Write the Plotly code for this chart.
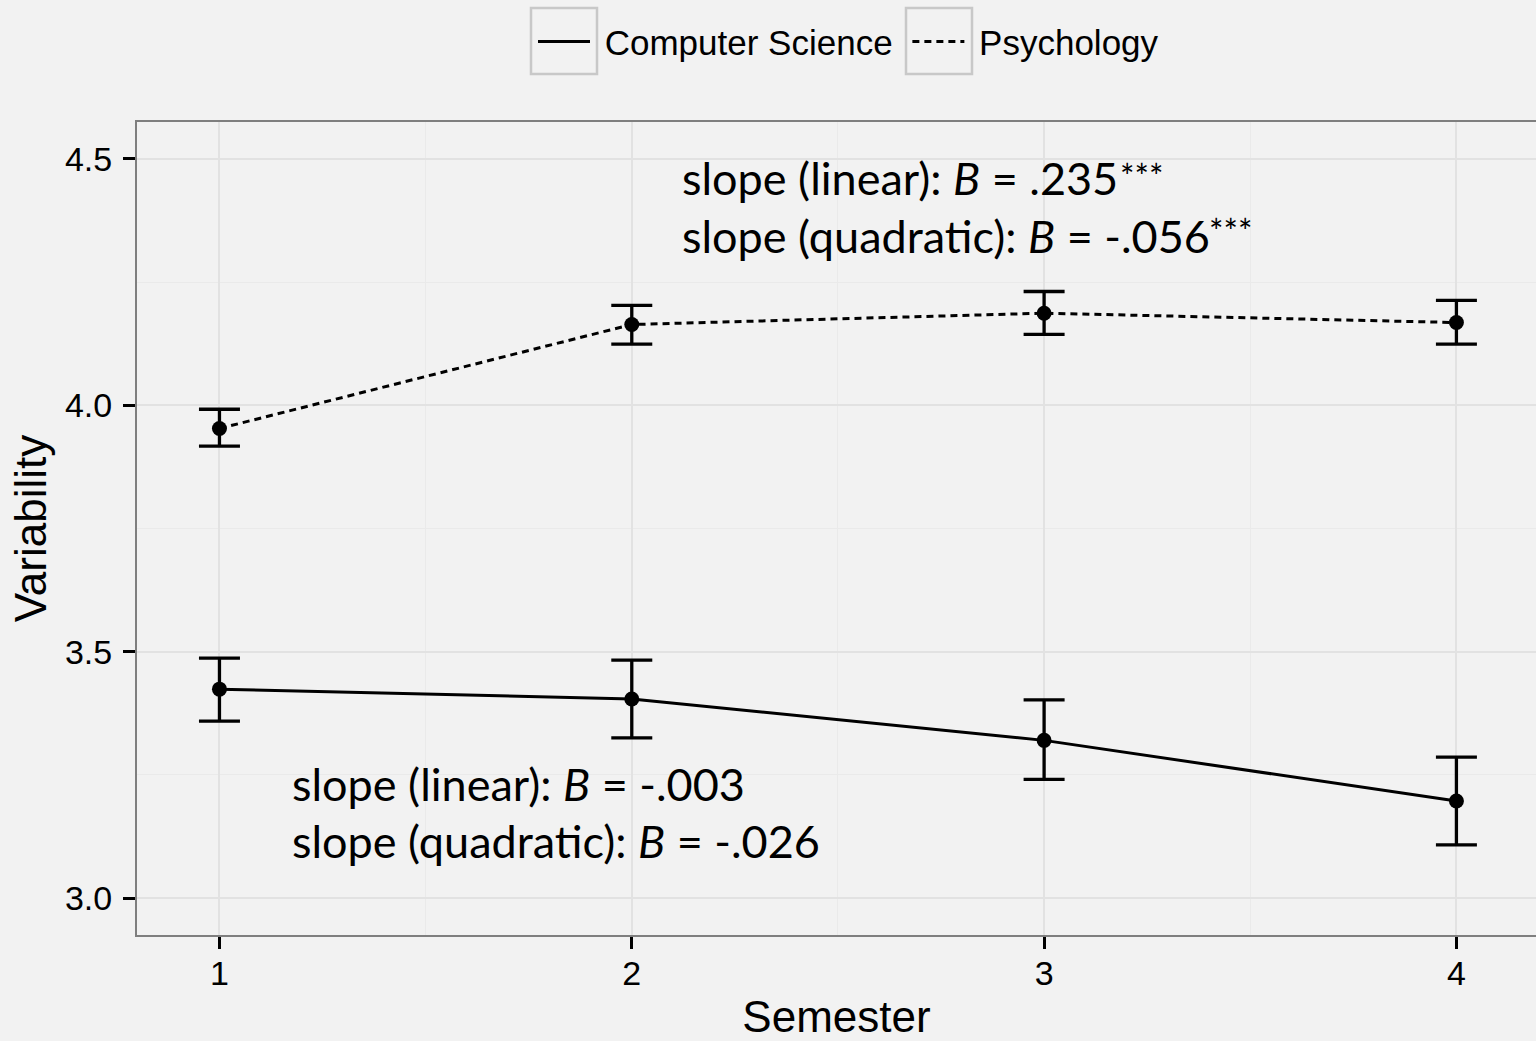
import plotly.graph_objects as go

semester = [1, 2, 3, 4]
cs_mean = [3.424, 3.404, 3.320, 3.197]
cs_upper = [3.487, 3.483, 3.402, 3.286]
cs_lower = [3.359, 3.325, 3.241, 3.108]
psy_mean = [3.953, 4.164, 4.187, 4.168]
psy_upper = [3.992, 4.203, 4.231, 4.213]
psy_lower = [3.917, 4.124, 4.144, 4.124]
series_names = ["Computer Science", "Psychology"]
y_ticks = [3.0, 3.5, 4.0, 4.5]
y_tick_labels = ["3.0", "3.5", "4.0", "4.5"]
x_ticks = [1, 2, 3, 4]

psy_notes = ["slope (linear): <i>B</i> = .235",
             "slope (quadratic): <i>B</i> = -.056"]
psy_sig = ["***", "***"]
cs_notes = ["slope (linear): <i>B</i> = -.003",
            "slope (quadratic): <i>B</i> = -.026"]

BG = "#F2F2F2"
AX_FONT = "Liberation Sans, Arial, sans-serif"
NOTE_FONT = "Lato, Open Sans, sans-serif"
NB = "\u00a0"

fig = go.Figure()

def add_series(name, legend_label, mean, upper, lower, dash):
    fig.add_trace(go.Scatter(
        x=semester, y=mean, name=name, mode="lines+markers", showlegend=False,
        line=dict(color="black", width=3, dash=dash),
        marker=dict(color="black", size=15),
        error_y=dict(type="data", symmetric=False,
                     array=[u - m for u, m in zip(upper, mean)],
                     arrayminus=[m - l for m, l in zip(mean, lower)],
                     color="black", thickness=3.3, width=20.5),
    ))
    # legend-only entry (line key, like ggplot)
    fig.add_trace(go.Scatter(
        x=[None], y=[None], name=legend_label, mode="lines", showlegend=True,
        line=dict(color="black", width=3, dash=dash),
    ))

add_series(series_names[0], NB + series_names[0] + NB, cs_mean, cs_upper, cs_lower, "solid")
add_series(series_names[1], NB + series_names[1], psy_mean, psy_upper, psy_lower, "7px,5px")

for i, t in enumerate(psy_notes):
    fig.add_annotation(x=2.118, y=[4.461, 4.344][i], text=t, showarrow=False,
                       xanchor="left", yanchor="middle",
                       font=dict(family=NOTE_FONT, size=45, color="black"))
    # significance stars, raised like a superscript
    fig.add_annotation(x=[3.178, 3.394][i], y=[4.4665, 4.355][i], text=psy_sig[i],
                       showarrow=False, xanchor="left", yanchor="middle",
                       font=dict(family=NOTE_FONT, size=34, color="black"))
for i, t in enumerate(cs_notes):
    fig.add_annotation(x=1.172, y=[3.231, 3.115][i], text=t, showarrow=False,
                       xanchor="left", yanchor="middle",
                       font=dict(family=NOTE_FONT, size=45, color="black"))

# ggplot-style legend key boxes (grey outline around each key)
def px_to_paper(px, py):
    return (px - 137) / 1399, (935 - py) / 813

for left in (531, 906):
    x0, y1 = px_to_paper(left, 8)
    x1, y0 = px_to_paper(left + 66, 74)
    fig.add_shape(type="rect", xref="paper", yref="paper",
                  x0=x0, x1=x1, y0=y0, y1=y1,
                  line=dict(color="#C8C8C8", width=2.5), fillcolor="rgba(0,0,0,0)",
                  layer="above")

fig.update_layout(
    width=1536, height=1041,
    paper_bgcolor=BG, plot_bgcolor=BG,
    margin=dict(l=137, r=0, t=122, b=106),
    font=dict(family=AX_FONT, color="black"),
    legend=dict(orientation="h", xref="container", yref="container",
                x=533 / 1536, xanchor="left", y=0.96, yanchor="middle",
                itemwidth=52,
                font=dict(family=AX_FONT, size=35, color="black"),
                bgcolor="rgba(0,0,0,0)"),
    showlegend=True,
)
fig.update_xaxes(
    range=[0.8, 4.193], tickvals=x_ticks, ticktext=[str(v) for v in x_ticks],
    showline=True, linecolor="#7F7F7F", linewidth=2, mirror=True,
    ticks="outside", ticklen=12, tickwidth=3, tickcolor="black",
    ticklabelstandoff=-5,
    tickfont=dict(size=34, color="black"),
    showgrid=True, gridcolor="#E2E2E2", gridwidth=1.5,
    minor=dict(dtick=0.5, tick0=0.5, showgrid=True, gridcolor="#EAEAEA", gridwidth=1),
    zeroline=False,
    title=dict(text="Semester", font=dict(size=44, color="black"), standoff=18),
)
fig.update_yaxes(
    range=[2.925, 4.575], tickvals=y_ticks, ticktext=y_tick_labels,
    showline=True, linecolor="#7F7F7F", linewidth=2, mirror=False,
    ticks="outside", ticklen=12, tickwidth=3, tickcolor="black",
    ticklabelstandoff=4,
    tickfont=dict(size=34, color="black"),
    showgrid=True, gridcolor="#E2E2E2", gridwidth=1.5,
    minor=dict(dtick=0.25, tick0=3.25, showgrid=True, gridcolor="#EAEAEA", gridwidth=1),
    zeroline=False,
    title=dict(text="Variability", font=dict(size=44, color="black"), standoff=5),
)

fig.write_html("out.html", config={"displayModeBar": False},
               post_script="document.body.style.margin='0';")
